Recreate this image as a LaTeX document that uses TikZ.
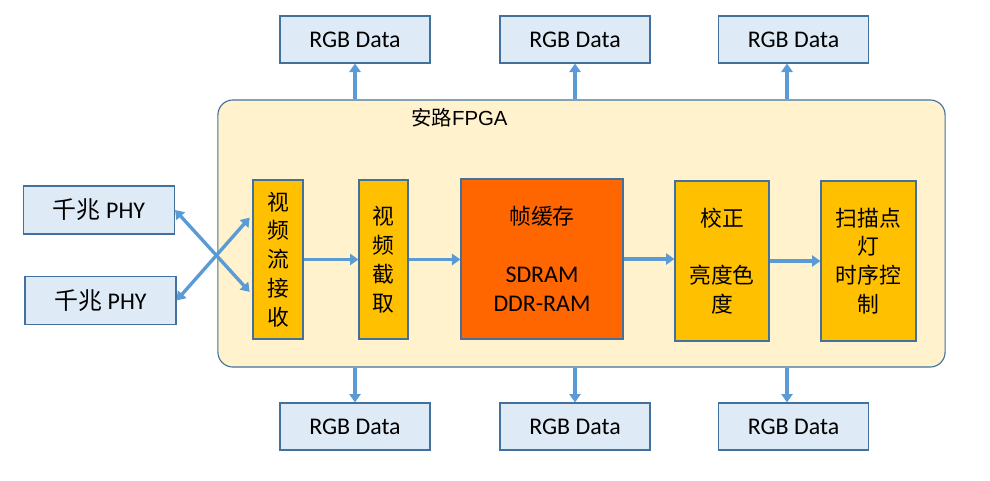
\documentclass[tikz,border=0pt]{standalone}
\usepackage{fontspec}
\setmainfont{Carlito}
\newfontfamily\cjk{Noto Sans CJK SC}
\newfontfamily\arialfont{Liberation Sans}
\usetikzlibrary{calc,
	positioning,
	shapes,
	arrows.meta}
\definecolor{boxblue}{HTML}{DEEBF7}
\definecolor{edgeblue}{HTML}{41719C}
\definecolor{arrowblue}{HTML}{5B9BD5}
\definecolor{fpgafill}{HTML}{FFF2CC}
\definecolor{blockorange}{HTML}{FFC000}
\definecolor{cacheorange}{HTML}{FF6600}
\tikzset{
	databox/.style={draw=edgeblue, fill=boxblue, line width=0.8pt, inner sep=0pt,
		minimum width=3.75cm, minimum height=1.175cm,
		font=\fontsize{17}{20}\selectfont},
	blockbox/.style={draw=edgeblue, fill=blockorange, line width=0.8pt, inner sep=0pt,
		minimum height=4cm, align=center,
		font=\cjk\fontsize{15.5}{20.5}\selectfont},
	flow/.style={draw=arrowblue, line width=2.6pt, -{Triangle[width=8pt,length=6pt]}},
	dflow/.style={draw=arrowblue, line width=2.4pt,
		{Triangle[width=8pt,length=6pt]}-{Triangle[width=8pt,length=6pt]}}
}

\begin{document}
\begin{tikzpicture}[x=0.025cm, y=-0.025cm]
		\useasboundingbox (0,0) rectangle (990,480);
		\node [draw=edgeblue, fill=fpgafill, line width=0.8pt, rounded corners=0.375cm,
			minimum width=18.175cm, minimum height=6.675cm] (fpga) at (581.5,233.5) {};
		\node [anchor=west, inner sep=0pt] (fpgalabel) at (411,118)
			{\fontsize{14.5}{16}\selectfont{\cjk 安路}\arialfont FPGA};
		% RGB data outputs
		\node [databox] (top1) at (355,39.5) {RGB Data};
		\node [databox] (top2) at (575,39.5) {RGB Data};
		\node [databox] (top3) at (793.5,39.5) {RGB Data};
		\node [databox] (bot1) at (355,426.5) {RGB Data};
		\node [databox] (bot2) at (575,426.5) {RGB Data};
		\node [databox] (bot3) at (793.5,426.5) {RGB Data};
		% PHY inputs
		\node [databox, minimum width=3.775cm, minimum height=1.2cm] (phy1) at (99,210)
			{{\cjk 千兆} PHY};
		\node [databox, minimum width=3.775cm, minimum height=1.2cm] (phy2) at (100.5,300.5)
			{{\cjk 千兆} PHY};
		% processing chain
		\node [blockbox, minimum width=1.25cm, minimum height=3.975cm] (recv) at (278,259.5)
			{视\\频\\流\\接\\收};
		\node [blockbox, minimum width=1.225cm, minimum height=3.975cm] (cut) at (383.5,259.5)
			{视\\频\\截\\取};
		\node [blockbox, fill=cacheorange, minimum width=4.05cm] (cache) at (542,259)
			{帧缓存\\ \\{\normalfont\fontsize{17}{20.5}\selectfont SDRAM}\\
			{\normalfont\fontsize{17}{20.5}\selectfont DDR-RAM}};
		\node [blockbox, minimum width=2.35cm] (corr) at (722,261)
			{校正\\ \\亮度色\\度};
		\node [blockbox, minimum width=2.375cm] (scan) at (868.5,261)
			{扫描点\\灯\\时序控\\制};
		\draw [dflow, shorten >=3pt] (phy1.east) -- ($(recv.west)+(0,35.5)$);
		\draw [dflow, shorten >=3pt] (phy2.east) -- ($(recv.west)+(0,-45)$);
		\draw [flow] (recv.east) -- (cut.west);
		\draw [flow] (cut.east) -- (cut.east -| cache.west);
		\draw [flow] (cache.east) -- (corr.west |- cache.east);
		\draw [flow] (corr.east) -- (scan.west);
		\draw [flow] (top1.south |- fpga.north) -- (top1.south);
		\draw [flow] (top2.south |- fpga.north) -- (top2.south);
		\draw [flow] ($(top3.south |- fpga.north)+(-6.5,0)$) -- ($(top3.south)+(-6.5,0)$);
		\draw [flow] (bot1.north |- fpga.south) -- (bot1.north);
		\draw [flow] (bot2.north |- fpga.south) -- (bot2.north);
		\draw [flow] ($(bot3.north |- fpga.south)+(-6.5,0)$) -- ($(bot3.north)+(-6.5,0)$);
	\end{tikzpicture}
\end{document}
